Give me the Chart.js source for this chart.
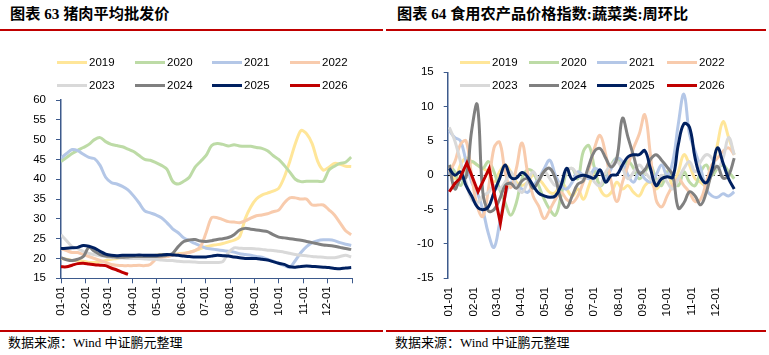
<!DOCTYPE html>
<html><head><meta charset="utf-8">
<script src="https://cdn.jsdelivr.net/npm/chart.js@4.4.1/dist/chart.umd.min.js"></script>
<style>
html,body{margin:0;padding:0;background:#fff}
body{width:769px;height:355px;position:relative;overflow:hidden;font-family:"Liberation Sans",Arial,sans-serif}
.title{position:absolute;top:6px;font-family:"Liberation Serif","Noto Sans CJK SC",serif;font-weight:bold;font-size:15.2px;line-height:16px;color:#000;white-space:nowrap}
.rule{position:absolute;height:2px;background:#c00000}
.src{position:absolute;top:336px;font-family:"Liberation Serif","Noto Sans CJK SC",serif;font-size:13px;line-height:13px;color:#000;white-space:nowrap}
canvas{position:absolute}
.lg{position:absolute;height:14px;font-size:11.5px;line-height:14px;color:#000;white-space:nowrap;z-index:5}
.lg i{position:absolute;left:0;top:5.5px;width:30px;height:3px}
.lg span{position:absolute;left:32px;top:0}
</style></head>
<body>
<div class="title" style="left:10px">图表 63 猪肉平均批发价</div>
<div class="rule" style="left:0;width:383px;top:29px"></div>
<div class="title" style="left:397px">图表 64 食用农产品价格指数:蔬菜类:周环比</div>
<div class="rule" style="left:386px;width:380px;top:29px"></div>
<canvas id="c1" width="385" height="245" style="left:0;top:90px"></canvas>
<canvas id="c2" width="384" height="275" style="left:385px;top:60px"></canvas>
<div class="rule" style="left:0;width:383px;top:330px"></div>
<div class="rule" style="left:386px;width:380px;top:330px"></div>
<div class="src" style="left:8px">数据来源：Wind 中证鹏元整理</div>
<div class="src" style="left:395px">数据来源：Wind 中证鹏元整理</div>
<script>
// ---------- shared ----------
const years = ['2019','2020','2021','2022','2023','2024','2025','2026'];
const colors = ['#FFE699','#BDDBA6','#B4C7E7','#F8CBAD','#D9D9D9','#808080','#002060','#C00000'];
const monthDays = [0,31,59,90,120,151,181,212,243,273,304,334];
const monthLabels = ['01-01','02-01','03-01','04-01','05-01','06-01','07-01','08-01','09-01','10-01','11-01','12-01'];

// ---------- chart 63: pork average wholesale price (yuan/kg) ----------
const porkDays = [0,7,14,21,28,35,42,49,56,63,70,77,84,91,98,105,112,119,126,133,140,147,154,161,168,175,182,189,196,203,210,217,224,231,238,245,252,259,266,273,280,287,294,301,308,315,322,329,336,343,350,357,364];
const pork2019 = [20,19.8,19.5,19.5,19.3,19,19,19.2,19.5,19.8,20,20.3,20.5,20.5,20.6,20.6,20.7,20.8,21,21,21,21.2,21.3,21.6,22,22.5,23,23.3,23.5,23.8,24.2,24.6,25.5,30,33,35,36,36.5,37,37.7,40.5,44.5,49,52.3,51.5,49,44.5,42.3,43,44,43.8,43.3,43.2];
const pork2020 = [44.5,45.5,46.5,47.3,48,48.8,50,50.5,49.5,48.8,48.5,48.2,47.6,47,46,45,44.8,44.2,43.5,42.5,39.5,38.8,39.5,40.5,43,44.5,46,48.5,49,48.8,48.4,48.7,48.4,48.3,48.3,48,47.8,47.2,46,45,43.5,41.8,40,39.4,39.5,39.5,39.5,39.5,42.3,43.3,44,44.3,45.6];
const pork2021 = [45.3,46.5,47.5,47.2,46.3,45.5,45.2,43.5,40.5,39.2,38.8,38.2,37.3,35.8,34,32,31.5,31,30.3,29,27.5,26.5,25.2,24.5,23.8,23.2,22.6,22.4,22.2,22,21.8,21.6,21.2,21,20.8,20.5,20.3,19.8,19.3,18.8,18.2,17.8,19.5,21.5,23,24,24.5,24.7,24.7,24.5,24,23.6,23.3];
const pork2022 = [22.5,22,21.5,21.5,21,20.5,20,19.5,19,18.5,18.3,18.2,18.2,18.2,18.3,18.2,18.5,19.8,20.3,20.5,20.8,21,21.2,21.5,22,23,26.5,30.3,30.3,29.8,29.3,29.2,29,29.5,30.2,30.8,31,31.3,31.8,32.2,34,35.3,35.3,35,35,33.5,33.5,33.5,32.3,31,29,27,26];
const pork2023 = [26,24.5,23,22.5,21.8,21.3,21,20.7,20.5,20.2,20.2,20.1,20,20,20,19.9,19.8,19.8,19.6,19.5,19.5,19.3,19.2,19.2,19.1,19,19,19,19,19.2,21.5,22.7,22.6,22.5,22.5,22.4,22.3,22.1,22,21.8,21.6,21.3,21,20.8,20.7,20.5,20.4,20.3,20.2,20.2,20.5,20.8,20.4];
const pork2024 = [20.2,19.7,19.5,19.8,20.5,22.8,21.8,21,20.6,20.5,20.3,20.3,20.4,20.5,20.5,20.5,20.5,20.5,20.6,20.8,21.3,23,24.3,24.7,24.8,24.4,24.3,24.5,24.8,25,25.3,26,27.2,27.6,27.4,27.2,27,26.8,26,25.4,25.2,25,24.8,24.6,24.3,24,23.7,23.4,23.3,23.1,22.8,22.5,22.3];
const pork2025 = [22.5,22.6,22.7,22.8,23.3,23.1,22.6,21.8,21.1,20.8,20.7,20.8,20.8,20.8,20.9,20.8,20.8,20.8,20.9,21,20.9,20.8,20.6,20.5,20.4,20.4,20.4,20.6,20.8,20.7,20.6,20.4,20.2,20,20,20,19.8,19.6,19.2,18.8,18.5,17.9,17.8,18,18.1,18,17.9,17.8,17.7,17.5,17.4,17.6,17.7];
const pork2026 = [17.9,17.9,18.3,18.7,18.8,18.6,18.4,18.3,18.2,17.6,17.1,16.5,16.0];
const porkYTicks = [15,20,25,30,35,40,45,50,55,60];

// ---------- chart 64: vegetable price index, week-on-week (%) ----------
const vegDays = [0,7,14,21,28,35,42,49,56,63,70,77,84,91,98,105,112,119,126,133,140,147,154,161,168,175,182,189,196,203,210,217,224,231,238,245,252,259,266,273,280,287,294,301,308,315,322,329,336,343,350,357];
const veg2019 = [1,-0.5,1.5,2.5,2,1.5,1,0.5,-1,0.5,1.5,0.5,-1,-1.5,-1,0,-0.5,-1.5,-2.5,-2.5,-1,-2,-3,-2,-3.5,-1.5,0.5,-2,-3,-2.5,-1,-2,-1.5,-2.5,-3,-1.5,-1,-2,-1,0.5,-1.5,0.5,3,1.5,-0.5,-1,-1.5,0.5,4.5,7.8,5.5,3];
const veg2020 = [1.5,0.5,-1.5,0.5,2,1.5,1,2,0.5,-2,-4,-5.8,-4,-0.5,0.8,0.5,-1.5,-3.5,-5,-5.8,-3,0.5,1,-0.5,3.5,4.3,1,-1.5,-0.5,1.5,2.5,1,2,1,-0.5,0.5,1.5,-0.5,-1.5,0.5,-0.5,-1.5,0.5,-1,-1.5,0.5,1.5,0,1,1.5,0.5,-0.5];
const veg2021 = [6.5,5.5,5,2,-1,-2.5,-5,-8.5,-10.5,-7,-3,-1,-1.5,-2,-2.5,-1.5,-0.5,1,2.2,0,-1.5,-2,-1,0.5,0,-0.5,1,0.5,-0.5,1,2.5,2,0,-1,0.5,-0.5,-1,0,1.5,0,2,7.5,11.8,6,3.5,1,-2,-3,-3.2,-2.7,-3,-2.4];
const veg2022 = [0.5,2,4.5,5,0,-4.5,-6,-2,4,4.8,0.5,-1.8,1,4.7,0.5,-3,-4.5,-6.3,-5,-3.5,-2.5,-3.5,-4,-3,-1,1,4,5.8,3,-1,-3.8,-1,1.5,4,6,8.8,3,-3.5,-4.6,-3,-1.5,-0.5,-1.5,-2.5,-3.8,-3.5,-1,1.5,2.5,3.5,4,3];
const veg2023 = [7,5,2,-1,-3.5,-4,-3,-2.5,-1.5,-2,-1,0.5,-1.5,-2.5,-1,0.5,-0.5,0.5,-0.5,-1.5,-1,0.5,1,0,-0.5,0.5,-1,-1.5,0.5,1.5,2,1,-0.5,0.5,1.5,0.5,-0.5,-1,0,-1,-2,-0.5,1,2,0.5,2,3,2.5,1,2.5,5.5,3];
const veg2024 = [1.5,-2,-0.5,-0.3,6.5,10.3,-2.5,-5.2,-5,-3.5,-1.5,-1.2,-1.9,-0.8,-0.5,-1.9,-0.8,0.6,1,-0.5,-3.5,-4.7,-3,-1.3,-0.8,1.5,3.5,3.9,2.5,1.2,2.5,8.3,5.5,2.8,0.3,0.8,2.3,3,2.2,1.2,0,-4.8,-4,-2.4,-3,-4.3,-2.5,0.3,1.3,-0.4,0,2.5];
const veg2025 = [1,0,0.5,-1.5,-3,-4.6,-5,-4.6,-2.5,-0.5,1.5,-0.3,-0.4,0.4,-0.2,-1.5,-2.6,-3,-3.2,-3,-1.5,1,-0.6,-0.2,0,-0.2,-0.4,0.8,-1,0,0.1,1.5,2.7,3,3,3.6,1,-1.5,-0.5,-0.2,-0.3,4.5,7.5,7,2.5,-0.3,-1.1,0.8,4,1.8,-0.5,-2];
const veg2026Days = [0,7,13,22,36,50,64,72];
const veg2026 = [-2.4,-1.2,-0.5,1.8,-2.4,1.0,-7.0,-1.5];
const vegYTicks = [-15,-10,-5,0,5,10,15];

// ---------- helpers ----------
const axisColor = '#3d5a8c';
const tickFont = {family:'"Liberation Sans", Arial, sans-serif', size:11.5};
function pts(days, vals){ return vals.map((v,i)=>({x:days[i], y:v})); }
function monthLabel(v){ const i = monthDays.indexOf(v); return i>=0 ? monthLabels[i] : ''; }
function fitY(width){ return (s)=>{ s.width = width; s.paddingTop = 0; s.paddingBottom = 0; }; }

function buildLegend(xs, ys){
  years.forEach((y,i)=>{
    const d = document.createElement('div');
    d.className='lg';
    d.style.left = xs[i%4]+'px';
    d.style.top = (ys[Math.floor(i/4)]-7)+'px';
    d.innerHTML = '<i style="background:'+colors[i]+'"></i><span>'+y+'</span>';
    document.body.appendChild(d);
  });
}
buildLegend([57,135,212,290],[62,85]);
buildLegend([460,529,597,667],[62,85]);

// ---------- chart 63 ----------
const porkSeries = [pork2019,pork2020,pork2021,pork2022,pork2023,pork2024,pork2025,pork2026];
new Chart(document.getElementById('c1'), {
  type:'line',
  data:{datasets: porkSeries.map((vals,i)=>({
    label:years[i], data:pts(porkDays, vals), borderColor:colors[i], backgroundColor:colors[i],
    borderWidth:3, pointRadius:0, tension:0.3, fill:false, order:20-i
  }))},
  options:{
    responsive:false, animation:false, devicePixelRatio:1,
    layout:{padding:{left:0, top:10, right:33, bottom:0}},
    plugins:{legend:{display:false}, tooltip:{enabled:false}},
    scales:{
      x:{type:'linear', min:0, max:365,
        afterBuildTicks:(s)=>{ s.ticks = monthDays.concat([365]).map(v=>({value:v})); },
        afterFit:(s)=>{ s.height = 56.7; },
        grid:{drawOnChartArea:false, drawTicks:true, tickLength:5, color:axisColor, tickColor:axisColor},
        border:{display:true, color:axisColor, width:1},
        ticks:{autoSkip:false, minRotation:90, maxRotation:90, padding:3, color:'#000', font:tickFont,
          callback:(v)=>monthLabel(v)}
      },
      y:{min:15, max:60,
        afterBuildTicks:(s)=>{ s.ticks = porkYTicks.map(v=>({value:v})); },
        afterFit:fitY(61),
        grid:{drawOnChartArea:false, drawTicks:true, tickLength:5, color:axisColor, tickColor:axisColor},
        border:{display:true, color:axisColor, width:1.5},
        ticks:{padding:10, color:'#000', font:tickFont}
      }
    }
  }
});

// ---------- chart 64 ----------
const zeroLine = {id:'zeroLine', beforeDatasetsDraw(chart){
  const a = chart.chartArea, y = chart.scales.y, ctx = chart.ctx;
  const py = Math.round(y.getPixelForValue(0)) + 0.5;
  ctx.save(); ctx.strokeStyle='#000'; ctx.lineWidth=1; ctx.setLineDash([3,3]);
  ctx.beginPath(); ctx.moveTo(a.left, py); ctx.lineTo(a.right, py); ctx.stroke(); ctx.restore();
}};
const vegSeries = [veg2019,veg2020,veg2021,veg2022,veg2023,veg2024,veg2025];
const vegSets = vegSeries.map((vals,i)=>({
  label:years[i], data:pts(vegDays, vals), borderColor:colors[i], backgroundColor:colors[i],
  borderWidth:3, pointRadius:0, tension:0.4, fill:false, order:20-i
}));
vegSets.push({label:years[7], data:pts(veg2026Days, veg2026), borderColor:colors[7], backgroundColor:colors[7],
  borderWidth:3, pointRadius:0, tension:0, fill:false, order:1});
new Chart(document.getElementById('c2'), {
  type:'line',
  data:{datasets:vegSets},
  options:{
    responsive:false, animation:false, devicePixelRatio:1,
    layout:{padding:{left:0, top:12.3, right:30, bottom:0}},
    plugins:{legend:{display:false}, tooltip:{enabled:false}},
    scales:{
      x:{type:'linear', min:-2, max:363,
        afterBuildTicks:(s)=>{ s.ticks = monthDays.map(v=>({value:v})); },
        afterFit:(s)=>{ s.height = 56.7; },
        grid:{display:false, drawTicks:false},
        border:{display:false},
        ticks:{autoSkip:false, minRotation:90, maxRotation:90, padding:8.7, color:'#000', font:tickFont,
          callback:(v)=>monthLabel(v)}
      },
      y:{min:-15, max:15,
        afterBuildTicks:(s)=>{ s.ticks = vegYTicks.map(v=>({value:v})); },
        afterFit:fitY(62.7),
        grid:{drawOnChartArea:false, drawTicks:true, tickLength:4, color:axisColor, tickColor:axisColor},
        border:{display:true, color:axisColor, width:1.5},
        ticks:{padding:10, color:'#000', font:tickFont}
      }
    }
  },
  plugins:[zeroLine]
});
</script>
</body></html>
